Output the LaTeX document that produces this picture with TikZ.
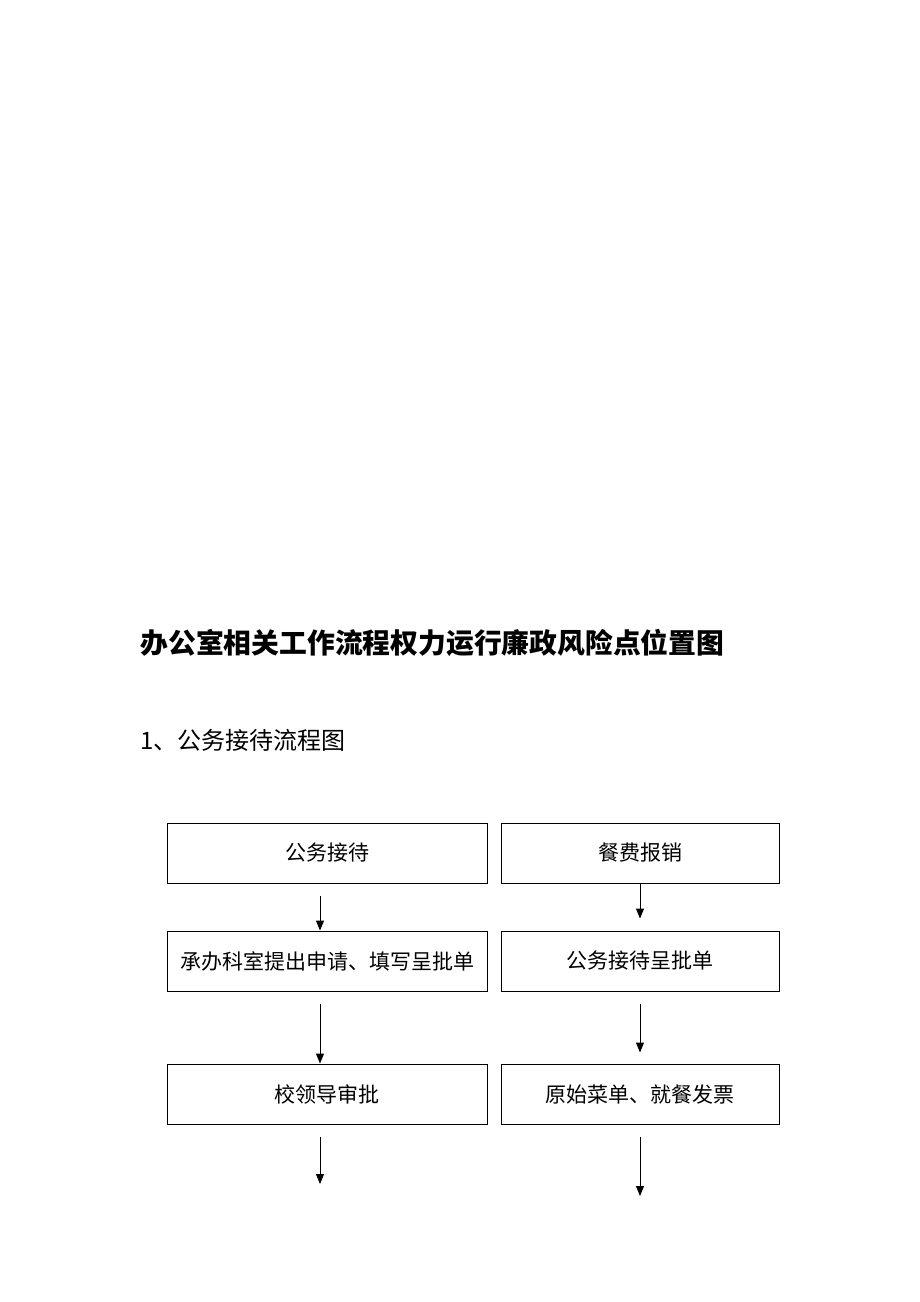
\documentclass[tikz,border=0pt]{standalone}
\usepackage{fontspec}
\newfontfamily\cjk{Noto Sans CJK SC}
\usetikzlibrary{arrows.meta}

\begin{document}
\begin{tikzpicture}[x=0.5pt,y=0.5pt,yscale=-1,xscale=1,
  stepbox/.style={draw,line width=0.5pt,minimum height=30pt,inner sep=0pt,font=\cjk\fontsize{10.5pt}{12pt}\selectfont},
  leftbox/.style={stepbox,minimum width=160pt},
  rightbox/.style={stepbox,minimum width=139pt},
  flow/.style={-{Triangle[length=5pt,width=4pt]},line width=0.5pt}]
%set diagram left start at 0, and has height of 1302
\useasboundingbox (0,0) rectangle (920,1302);

% Text Node
\node (title) at (140,643) [anchor=west,inner sep=0pt,font=\cjk\bfseries\fontsize{13.9pt}{16pt}\selectfont] {办公室相关工作流程权力运行廉政风险点位置图};
% Text Node
\node (sub) at (140,740) [anchor=west,inner sep=0pt,font=\cjk\fontsize{12pt}{14pt}\selectfont] {1、公务接待流程图};

%Shape: Rectangle left column
\node (l1) at (327,853) [leftbox] {公务接待};
\node (l2) at (327,961) [leftbox] {承办科室提出申请、填写呈批单};
\node (l3) at (327,1094) [leftbox] {校领导审批};
%Shape: Rectangle right column
\node (r1) at (640,853) [rightbox] {餐费报销};
\node (r2) at (640,961) [rightbox] {公务接待呈批单};
\node (r3) at (640,1094) [rightbox] {原始菜单、就餐发票};

% free ends
\coordinate (l4) at (320,1184);
\coordinate (r4) at (640,1196);

%Straight Lines left (yshift is flipped by yscale=-1)
\draw [flow] ([xshift=-3.5pt,yshift=6pt]l1.south) -- ([xshift=-3.5pt]l2.north);
\draw [flow] ([xshift=-3.5pt,yshift=6pt]l2.south) -- ([xshift=-3.5pt]l3.north);
\draw [flow] ([xshift=-3.5pt,yshift=6pt]l3.south) -- (l4);
%Straight Lines right
\draw [flow] (r1.south) -- ([yshift=-6pt]r2.north);
\draw [flow] ([yshift=6pt]r2.south) -- ([yshift=-5.5pt]r3.north);
\draw [flow] ([yshift=6pt]r3.south) -- (r4);

\end{tikzpicture}
\end{document}
